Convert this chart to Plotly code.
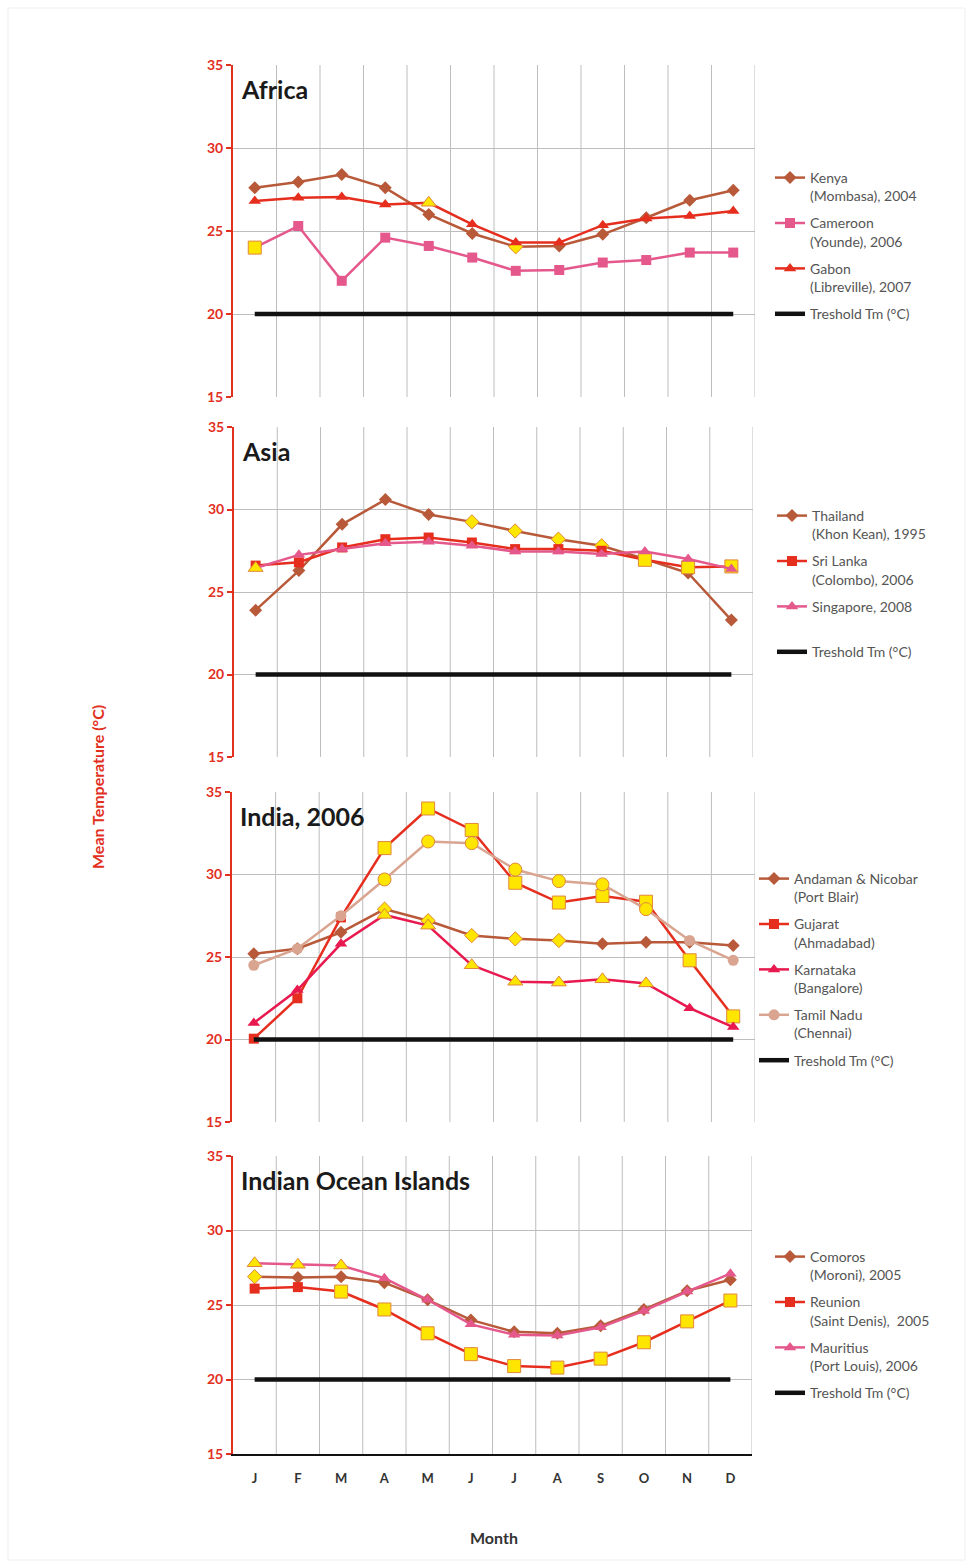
import plotly.graph_objects as go

W, H = 969, 1564

months = ["J", "F", "M", "A", "M", "J", "J", "A", "S", "O", "N", "D"]
x_idx = list(range(12))
threshold = [20] * 12

# ---- Africa ----
kenya = [27.6, 27.95, 28.4, 27.6, 26.0, 24.85, 24.05, 24.1, 24.8, 25.8, 26.85, 27.45]
cameroon = [24.0, 25.3, 22.0, 24.6, 24.1, 23.4, 22.6, 22.65, 23.1, 23.25, 23.7, 23.7]
gabon = [26.8, 27.0, 27.05, 26.6, 26.7, 25.4, 24.3, 24.3, 25.35, 25.75, 25.9, 26.2]
kenya_hl = [6]
cameroon_hl = [0]
gabon_hl = [4]

# ---- Asia ----
thailand = [23.9, 26.3, 29.1, 30.6, 29.7, 29.25, 28.7, 28.2, 27.8, 27.0, 26.15, 23.3]
srilanka = [26.6, 26.8, 27.7, 28.2, 28.3, 28.0, 27.6, 27.6, 27.5, 26.95, 26.5, 26.55]
singapore = [26.45, 27.25, 27.6, 27.95, 28.05, 27.8, 27.45, 27.45, 27.3, 27.45, 27.0, 26.4]
thailand_hl = [5, 6, 7, 8]
srilanka_hl = [9, 10, 11]
singapore_hl = [0]

# ---- India, 2006 ----
andaman = [25.2, 25.5, 26.5, 27.9, 27.2, 26.3, 26.1, 26.0, 25.8, 25.9, 25.9, 25.7]
gujarat = [20.05, 22.5, 27.4, 31.6, 34.0, 32.7, 29.5, 28.3, 28.7, 28.35, 24.8, 21.4]
karnataka = [21.0, 23.0, 25.8, 27.55, 26.9, 24.5, 23.5, 23.45, 23.65, 23.4, 21.9, 20.75]
tamilnadu = [24.5, 25.5, 27.5, 29.7, 32.0, 31.9, 30.3, 29.6, 29.4, 27.9, 26.0, 24.8]
andaman_hl = [3, 4, 5, 6, 7]
gujarat_hl = [3, 4, 5, 6, 7, 8, 9, 10, 11]
karnataka_hl = [3, 4, 5, 6, 7, 8, 9]
tamilnadu_hl = [3, 4, 5, 6, 7, 8, 9]

# ---- Indian Ocean Islands ----
comoros = [26.9, 26.85, 26.9, 26.5, 25.35, 24.0, 23.2, 23.1, 23.6, 24.7, 25.95, 26.7]
reunion = [26.1, 26.2, 25.9, 24.7, 23.1, 21.7, 20.9, 20.8, 21.4, 22.5, 23.9, 25.3]
mauritius = [27.8, 27.7, 27.65, 26.8, 25.35, 23.7, 23.0, 22.95, 23.5, 24.6, 25.9, 27.1]
comoros_hl = [0]
reunion_hl = [2, 3, 4, 5, 6, 7, 8, 9, 10, 11]
mauritius_hl = [0, 1, 2]

BROWN = "#B85A3A"
RED = "#E62E1E"
PINK = "#E4588C"
CRIMSON = "#E8194E"
TAN = "#D9A590"
YELLOW = "#FFE600"
AXRED = "#E2301E"
FONT = "Lato, Open Sans, sans-serif"

def px_x(p):
    return p / W

def px_y(p):
    return 1 - p / H

# panels: (title, left, right, top, bottom, legend x, legend top)
panels = [
    ("Africa", 233, 755, 65, 397, 770, 162),
    ("Asia", 234, 753, 427, 757, 772, 500),
    ("India, 2006", 232, 755, 792, 1122, 754, 863),
    ("Indian Ocean Islands", 233, 752, 1156, 1454, 770, 1241),
]

series = [
    [("Kenya<br>(Mombasa), 2004", kenya, kenya_hl, BROWN, "diamond", 10, 1),
     ("Cameroon<br>(Younde), 2006", cameroon, cameroon_hl, PINK, "square", 10, 3),
     ("Gabon<br>(Libreville), 2007", gabon, gabon_hl, RED, "triangle-up", 11, 2)],
    [("Thailand<br>(Khon Kean), 1995", thailand, thailand_hl, BROWN, "diamond", 10, 1),
     ("Sri Lanka<br>(Colombo), 2006", srilanka, srilanka_hl, RED, "square", 10, 3),
     ("Singapore, 2008<br> ", singapore, singapore_hl, PINK, "triangle-up", 11, 2)],
    [("Andaman & Nicobar<br>(Port Blair)", andaman, andaman_hl, BROWN, "diamond", 10, 1),
     ("Gujarat<br>(Ahmadabad)", gujarat, gujarat_hl, RED, "square", 10, 3),
     ("Karnataka<br>(Bangalore)", karnataka, karnataka_hl, CRIMSON, "triangle-up", 11, 2),
     ("Tamil Nadu<br>(Chennai)", tamilnadu, tamilnadu_hl, TAN, "circle", 11, 2)],
    [("Comoros<br>(Moroni), 2005", comoros, comoros_hl, BROWN, "diamond", 10, 1),
     ("Reunion<br>(Saint Denis),  2005", reunion, reunion_hl, RED, "square", 10, 3),
     ("Mauritius<br>(Port Louis), 2006", mauritius, mauritius_hl, PINK, "triangle-up", 11, 2)],
]

fig = go.Figure()
annotations = []
layout_upd = {}

for i, (ptitle, L, R, T, B, lgx, lgy) in enumerate(panels):
    n = i + 1
    xa = "x" if n == 1 else f"x{n}"
    ya = "y" if n == 1 else f"y{n}"
    lg = "legend" if n == 1 else f"legend{n}"
    for name, vals, hl, col, sym, sz, extra in series[i]:
        fig.add_trace(go.Scatter(
            x=x_idx, y=vals, name=name, mode="lines+markers",
            line=dict(color=col, width=2.5),
            marker=dict(symbol=sym, size=sz, color=col),
            xaxis=xa, yaxis=ya, legend=lg, legendgroup=f"{n}{name}"))
        fig.add_trace(go.Scatter(
            x=[x_idx[k] for k in hl], y=[vals[k] for k in hl], mode="markers",
            marker=dict(symbol=sym, size=sz + extra, color=YELLOW,
                        line=dict(color="#E0883A", width=1)),
            xaxis=xa, yaxis=ya, showlegend=False, hoverinfo="skip"))
    fig.add_trace(go.Scatter(
        x=x_idx, y=threshold, name="Treshold Tm (°C)", mode="lines",
        line=dict(color="#111111", width=4.5),
        xaxis=xa, yaxis=ya, legend=lg, legendgroup=f"{n}thr"))

    bottom = (n == 4)
    layout_upd[f"xaxis{'' if n == 1 else n}"] = dict(
        domain=[px_x(L), px_x(R)], anchor=ya,
        type="linear", range=[-0.5, 11.5],
        tickmode="array", tickvals=x_idx, ticktext=months,
        showticklabels=bottom, ticks="outside" if bottom else "",
        ticklen=11, tickcolor="rgba(0,0,0,0)",
        showgrid=False, zeroline=False,
        showline=True, linecolor="#111111" if bottom else "white",
        linewidth=2,
        tickfont=dict(family=FONT, size=13, color="#333333", weight="bold"),
        automargin=False, fixedrange=True,
    )
    layout_upd[f"yaxis{'' if n == 1 else n}"] = dict(
        domain=[px_y(B), px_y(T)], anchor=xa,
        range=[15, 35], tickvals=[15, 20, 25, 30, 35],
        showgrid=True, gridcolor="#BDBDBD", gridwidth=1,
        zeroline=False, showline=True, linecolor=AXRED, linewidth=2,
        ticks="outside", ticklen=5, tickcolor=AXRED, tickwidth=2,
        tickfont=dict(family=FONT, size=14, color=AXRED, weight="bold"),
        automargin=False, fixedrange=True,
    )
    # vertical gridlines at month boundaries (incl. right frame)
    for b in range(1, 13):
        fig.add_shape(type="line", xref=xa, yref=f"{ya} domain",
                      x0=b - 0.5, x1=b - 0.5, y0=0, y1=1,
                      line=dict(color="#BDBDBD", width=1), layer="below")
    layout_upd[lg] = dict(
        x=px_x(lgx), y=px_y(lgy), xanchor="left", yanchor="top",
        bgcolor="rgba(0,0,0,0)", valign="top",
        font=dict(family=FONT, size=14, color="#555555"),
        tracegroupgap=6, itemwidth=30,
    )
    annotations.append(dict(
        text=f"<b>{ptitle}</b>", xref="paper", yref="paper",
        x=px_x(L + 6), y=px_y(T + 24), xanchor="left", yanchor="middle",
        showarrow=False, font=dict(family=FONT, size=25, color="#1A1A1A")))

annotations.append(dict(
    text="<b>Mean Temperature (°C)</b>", xref="paper", yref="paper",
    x=px_x(97), y=px_y(787), xanchor="center", yanchor="middle",
    textangle=-90, showarrow=False,
    font=dict(family=FONT, size=16, color=AXRED)))
annotations.append(dict(
    text="<b>Month</b>", xref="paper", yref="paper",
    x=px_x(494), y=px_y(1537), xanchor="center", yanchor="middle",
    showarrow=False, font=dict(family=FONT, size=16, color="#333333")))

fig.add_shape(type="rect", xref="paper", yref="paper",
              x0=px_x(8), x1=px_x(965), y0=px_y(1560), y1=px_y(8),
              line=dict(color="#EEEEEE", width=1), layer="below")

fig.update_layout(
    width=W, height=H, margin=dict(l=0, r=0, t=0, b=0, autoexpand=False),
    paper_bgcolor="white", plot_bgcolor="white",
    annotations=annotations, **layout_upd,
)

fig.write_html(
    "out.html",
    config={"displayModeBar": False},
    post_script="document.body.style.margin='0';document.body.style.padding='0';"
                "document.documentElement.style.overflow='hidden';",
)
